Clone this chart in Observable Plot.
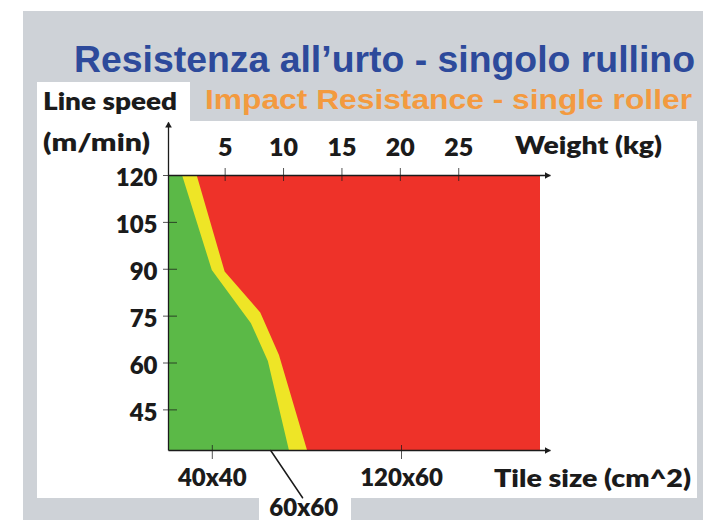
<!DOCTYPE html>
<html><head><meta charset="utf-8">
<script src="https://cdn.jsdelivr.net/npm/d3@7"></script>
<script src="https://cdn.jsdelivr.net/npm/@observablehq/plot@0.6"></script>
<style>
html,body{margin:0;padding:0;background:#fff;}
#fig{position:relative;width:703px;height:520px;overflow:hidden;background:#fff;}
.bg{position:absolute;}
#plot,#over{position:absolute;left:0;top:0;}
#over text{font-weight:bold;}
#over text.ax{font-weight:800;}
</style></head><body>
<div id="fig">
  <div class="bg" style="left:23px;top:11px;width:680px;height:509px;background:#ced2d7"></div>
  <div class="bg" style="left:37px;top:121px;width:660px;height:377px;background:#fff"></div>
  <div class="bg" style="left:37px;top:82px;width:153px;height:40px;background:#fff"></div>
  <div class="bg" style="left:259px;top:497px;width:92px;height:23px;background:#fff"></div>
  <div id="plot"></div>
  <svg id="over" width="703" height="520">
    <text x="74" y="71.5" textLength="621" lengthAdjust="spacingAndGlyphs" font-family="'Liberation Sans', Arial, sans-serif" font-size="36.5" fill="#2d4a9b">Resistenza all’urto - singolo rullino</text>
    <text x="205" y="109" textLength="487" lengthAdjust="spacingAndGlyphs" font-family="'Liberation Sans', Arial, sans-serif" font-size="28" fill="#f39a3f">Impact Resistance - single roller</text>
    <text class="ax" x="43" y="110" textLength="134" lengthAdjust="spacingAndGlyphs" font-family="Lato, sans-serif" font-size="24" fill="#1b1b1b">Line speed</text>
    <text class="ax" x="43" y="151" textLength="107" lengthAdjust="spacingAndGlyphs" font-family="Lato, sans-serif" font-size="24" fill="#1b1b1b">(m/min)</text>
    <text class="ax" x="515" y="153.5" textLength="147" lengthAdjust="spacingAndGlyphs" font-family="Lato, sans-serif" font-size="25" fill="#1b1b1b">Weight (kg)</text>
    <text class="ax" x="494" y="487" textLength="197" lengthAdjust="spacingAndGlyphs" font-family="Lato, sans-serif" font-size="25" fill="#1b1b1b">Tile size (cm^2)</text>
  </svg>
</div>
<script>
// ---- data ----
const speedTicks = [45, 60, 75, 90, 105, 120];          // line speed (m/min)
const weightTicks = [5, 10, 15, 20, 25];                 // weight (kg)
const tileLabels = ["40x40", "60x60", "120x60"];
const tileWeights = [3.9, 8.9, 20.1];                    // kg position of each tile size
const greenSpeeds = [120, 89.6, 72.6, 60.5, 32];         // green / yellow boundary
const greenWeights = [1.35, 3.9, 7.25, 8.7, 10.5];
const yellowSpeeds = [120, 89.1, 76, 62.4, 32];          // yellow / red boundary
const yellowWeights = [2.6, 5.0, 8.05, 9.65, 12.05];
const weightRange = [0.15, 32];
const speedRange = [32, 120];

// ---- layout ----
const W = 703, H = 520;
const mL = 168, mR = 163, mT = 175, mB = 70;
const frameW = W - mL - mR, frameH = H - mT - mB;
const axisEndWeight = 32.85, axisEndSpeed = 137;
const GREEN = "#5bb947", YELLOW = "#eee526", RED = "#ee3229", INK = "#1b1b1b";
const font = {fontSize: 24, fontWeight: 800, fontFamily: "Lato, sans-serif"};

const greenData = greenSpeeds.map((s, i) => ({s, w: greenWeights[i]}));
const yellowData = yellowSpeeds.map((s, i) => ({s, w: yellowWeights[i]}));
const tiles = tileLabels.map((label, i) => ({label, w: tileWeights[i]}));
const tilesOnAxis = tiles.filter(d => d.label !== "60x60");
const tileLeader = tiles.filter(d => d.label === "60x60");

const chart = Plot.plot({
  width: W, height: H,
  marginLeft: mL, marginRight: mR, marginTop: mT, marginBottom: mB,
  x: {domain: weightRange},
  y: {domain: speedRange},
  style: {background: "transparent", color: INK, overflow: "visible"},
  marks: [
    Plot.rect([speedRange], {x1: weightRange[0], x2: weightRange[1], y1: d => d[0], y2: d => d[1], fill: RED}),
    Plot.areaX(yellowData, {x1: weightRange[0], x2: "w", y: "s", fill: YELLOW}),
    Plot.areaX(greenData, {x1: weightRange[0], x2: "w", y: "s", fill: GREEN}),
    // axis lines with arrows
    Plot.link([0], {x1: weightRange[0], x2: axisEndWeight, y1: speedRange[1], y2: speedRange[1], stroke: INK, strokeWidth: 1.3}),
    Plot.link([0], {x1: weightRange[0], x2: axisEndWeight, y1: speedRange[0], y2: speedRange[0], stroke: INK, strokeWidth: 1.3}),
    Plot.link([0], {x1: weightRange[0], x2: weightRange[0], y1: speedRange[0], y2: axisEndSpeed, stroke: INK, strokeWidth: 1.3}),
    Plot.dot([0], {x: axisEndWeight - 0.3, y: speedRange[1], symbol: "triangle2", r: 3.2, rotate: 90, fill: INK}),
    Plot.dot([0], {x: axisEndWeight - 0.3, y: speedRange[0], symbol: "triangle2", r: 3.2, rotate: 90, fill: INK}),
    Plot.dot([0], {x: weightRange[0], y: axisEndSpeed - 1, symbol: "triangle2", r: 3.2, fill: INK}),
    // ticks
    Plot.tickY(speedTicks, {y: d => d, insetLeft: -5, insetRight: frameW - 9, stroke: INK, strokeOpacity: 0.75}),
    Plot.tickX(weightTicks, {x: d => d, insetTop: -7, insetBottom: frameH - 6, stroke: INK, strokeOpacity: 0.75}),
    Plot.tickX(tilesOnAxis, {x: "w", insetTop: frameH - 5, insetBottom: -9, stroke: INK, strokeOpacity: 0.75}),
    // tick labels
    Plot.axisY(speedTicks, {anchor: "left", tickSize: 0, tickPadding: 11, dy: 3, label: null, color: INK, ...font}),
    Plot.axisX(weightTicks, {anchor: "top", tickSize: 0, tickPadding: 20, label: null, color: INK, ...font, fontSize: 25}),
    Plot.text(tilesOnAxis, {x: "w", text: "label", frameAnchor: "bottom", lineAnchor: "top", dy: 18, fill: INK, ...font}),
    Plot.text(tileLeader, {x: "w", text: "label", frameAnchor: "bottom", lineAnchor: "bottom", dx: 33, dy: 65, fill: INK, ...font}),
    Plot.vector(tileLeader, {x: "w", frameAnchor: "bottom", anchor: "start", length: 57, rotate: 146, stroke: INK, strokeWidth: 1.5,
      shape: {draw(context, l) { context.moveTo(0, 0); context.lineTo(0, -l); }}})
  ]
});
document.getElementById("plot").append(chart);
</script>
</body></html>
